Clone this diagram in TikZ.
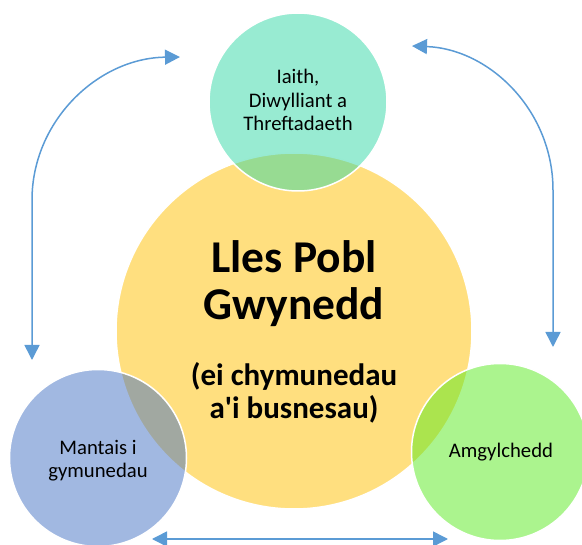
\documentclass[tikz,border=0pt]{standalone}
\usepackage{fontspec}
\setmainfont{Carlito}[Ligatures=TeXOff]
\usetikzlibrary{arrows.meta}
\definecolor{cyel}{RGB}{255,192,0}
\definecolor{cteal}{RGB}{49,215,165}
\definecolor{cgreen}{RGB}{88,233,30}
\definecolor{cblue}{RGB}{68,114,196}
\definecolor{carrow}{RGB}{91,155,213}
\tikzset{
  bubble/.style={circle, inner sep=0pt, fill opacity=0.5, draw=white, draw opacity=1, line width=1.5pt},
  smalltxt/.style={anchor=base, inner sep=0pt, font=\fontsize{20.7}{24}\selectfont},
  bigtxt/.style={anchor=base, inner sep=0pt, font=\fontsize{45.5}{48}\selectfont\bfseries},
  midtxt/.style={anchor=base, inner sep=0pt, font=\fontsize{31}{33}\selectfont\bfseries},
  link/.style={draw=carrow, line width=1.5pt, {Triangle[length=15pt,width=15pt]}-{Triangle[length=15pt,width=15pt]}}
}
\begin{document}
\begin{tikzpicture}[x=1pt,y=-1pt]
\useasboundingbox (0,0) rectangle (582,545);
\begin{scope}
\clip (0,0) rectangle (582,545);
% central circle
\node[bubble, fill=cyel, minimum size=356pt] (main) at (294,331) {};
% outer circles
\node[bubble, fill=cteal, minimum size=178pt] (top) at (298,102) {};
\node[bubble, fill=cblue, minimum size=177pt] (left) at (98,458) {};
\node[bubble, fill=cgreen, minimum size=177pt] (right) at (500,452) {};
\end{scope}
% texts
\node[bigtxt] (t1) at (294,273) {Lles Pobl};
\node[bigtxt] (t2) at (294,320) {Gwynedd};
\node[midtxt] (t3) at (294,386) {(ei chymunedau};
\node[midtxt] (t4) at (294,419) {a'i busnesau)};
\node[smalltxt] (a1) at (298,84) {Iaith,};
\node[smalltxt] (a2) at (298,108) {Diwylliant a};
\node[smalltxt] (a3) at (298,131) {Threftadaeth};
\node[smalltxt] (b1) at (98,455) {Mantais i};
\node[smalltxt] (b2) at (98,478) {gymunedau};
\node[smalltxt] (c1) at (501,458) {Amgylchedd};
% arrow coordinates
\coordinate (Ltop) at (180,57);
\coordinate (Lmid) at (32,200);
\coordinate (Lbot) at (32,360);
\coordinate (Rtop) at (412,46);
\coordinate (Rmid) at (553,190);
\coordinate (Rbot) at (553,347);
\coordinate (Bl) at (152,539);
\coordinate (Br) at (448,539);
\draw[link] (Ltop) .. controls (98,58) and (32,121) .. (Lmid) -- (Lbot);
\draw[link] (Rtop) .. controls (490,49) and (553,111) .. (Rmid) -- (Rbot);
\draw[link] (Bl) -- (Br);
\end{tikzpicture}
\end{document}
